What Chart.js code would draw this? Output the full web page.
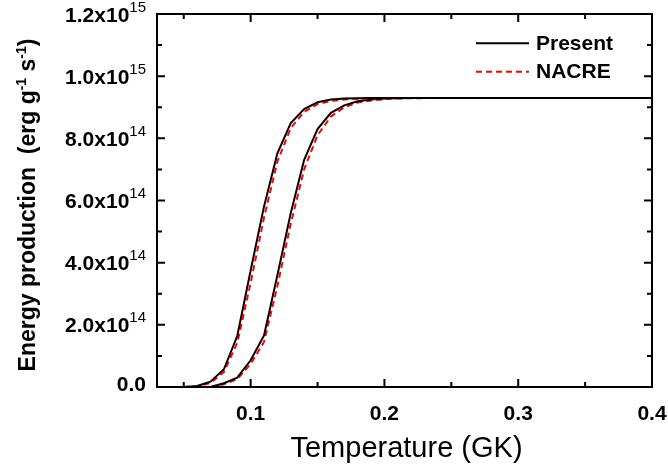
<!DOCTYPE html>
<html>
<head>
<meta charset="utf-8">
<script src="https://cdn.jsdelivr.net/npm/chart.js@4/dist/chart.umd.min.js"></script>
<style>
  html, body { margin: 0; padding: 0; background: #fff; }
  #wrap { width: 668px; height: 467px; }
</style>
</head>
<body>
<div id="wrap"><canvas id="chart" width="668" height="467"></canvas></div>
<script>
// temperature grid (GK), energy production in units of 1e14 erg g^-1 s^-1
const TEMPS = [0.05,0.06,0.07,0.08,0.09,0.10,0.11,0.12,0.13,0.14,0.15,0.16,0.17,0.18,0.19,0.20,0.21,0.22,0.25,0.30,0.35,0.40];

const presentLow  = [0.00,0.03,0.17,0.57,1.64,3.75,5.81,7.52,8.49,8.94,9.16,9.25,9.28,9.29,9.30,9.30,9.30,9.30,9.30,9.30,9.30,9.30];
const nacreLow    = [0.00,0.02,0.13,0.48,1.42,3.35,5.45,7.25,8.33,8.85,9.10,9.20,9.25,9.27,9.28,9.29,9.30,9.30,9.30,9.30,9.30,9.30];
const presentHigh = [null,null,0.00,0.12,0.30,0.86,1.66,3.60,5.60,7.31,8.30,8.82,9.06,9.19,9.25,9.28,9.29,9.30,9.30,9.30,9.30,9.30];
const nacreHigh   = [null,null,0.00,0.09,0.25,0.74,1.45,3.25,5.25,7.00,8.10,8.70,9.00,9.15,9.22,9.26,9.28,9.29,9.30,9.30,9.30,9.30];

const X_MAJOR = [0.1, 0.2, 0.3, 0.4];
const X_MINOR = [0.05, 0.15, 0.25, 0.35];
const X_LABELS = ['0.1', '0.2', '0.3', '0.4'];
const Y_MAJOR = [0, 2, 4, 6, 8, 10, 12];
const Y_MINOR = [1, 3, 5, 7, 9, 11];
const Y_LABELS = ['0.0', '2.0x10', '4.0x10', '6.0x10', '8.0x10', '1.0x10', '1.2x10'];
const Y_EXPS   = ['', '14', '14', '14', '14', '15', '15'];

const FONT = '"Liberation Sans", Arial, sans-serif';
const pts = arr => TEMPS.map((t, i) => ({ x: t, y: arr[i] }));

function line(label, arr, color, dash) {
  return {
    label, data: pts(arr),
    borderColor: color, borderWidth: 2, borderDash: dash || [],
    pointRadius: 0, tension: 0, fill: false, spanGaps: false,
  };
}

// frame, inward ticks, labels, titles and legend
const decor = {
  id: 'decor',
  afterDraw(chart) {
    const ctx = chart.ctx, xs = chart.scales.x, ys = chart.scales.y;
    const a = chart.chartArea;
    ctx.save();
    ctx.strokeStyle = '#000';
    ctx.lineWidth = 2;
    ctx.strokeRect(a.left, a.top, a.right - a.left, a.bottom - a.top);

    ctx.beginPath();
    const tickX = (vals, len) => vals.forEach(v => {
      const px = xs.getPixelForValue(v);
      ctx.moveTo(px, a.bottom); ctx.lineTo(px, a.bottom - len);
      ctx.moveTo(px, a.top);    ctx.lineTo(px, a.top + len);
    });
    const tickY = (vals, len) => vals.forEach(v => {
      const py = ys.getPixelForValue(v);
      ctx.moveTo(a.left, py);  ctx.lineTo(a.left + len, py);
      ctx.moveTo(a.right, py); ctx.lineTo(a.right - len, py);
    });
    tickX(X_MAJOR, 8); tickX(X_MINOR, 5);
    tickY(Y_MAJOR, 8); tickY(Y_MINOR, 5);
    ctx.stroke();

    ctx.fillStyle = '#000';
    // x tick labels
    ctx.font = 'bold 21px ' + FONT;
    ctx.textAlign = 'center';
    ctx.textBaseline = 'alphabetic';
    X_MAJOR.forEach((v, i) => ctx.fillText(X_LABELS[i], xs.getPixelForValue(v), 420));

    // y tick labels with exponent
    const rightEdge = a.left - 11;
    Y_MAJOR.forEach((v, i) => {
      const py = ys.getPixelForValue(v);
      const base = v === 0 ? py + 3.5 : py + 7.5;
      ctx.font = '15px ' + FONT;
      const ew = Y_EXPS[i] ? ctx.measureText(Y_EXPS[i]).width : 0;
      ctx.textAlign = 'left';
      if (ew) ctx.fillText(Y_EXPS[i], rightEdge - ew, base - 10);
      ctx.font = 'bold 21px ' + FONT;
      ctx.textAlign = 'right';
      ctx.fillText(Y_LABELS[i], rightEdge - ew, base);
    });

    // x title
    ctx.font = '29px ' + FONT;
    ctx.textAlign = 'center';
    ctx.fillText('Temperature (GK)', (a.left + a.right) / 2 + 2, 457);

    // y title, rotated, with superscripts
    const parts = [
      ['Energy production', 'bold 23px', 0],
      ['  (erg g', 'bold 23px', 0],
      ['-1', 'bold 14px', -9],
      [' s', 'bold 23px', 0],
      ['-1', 'bold 14px', -9],
      [')', 'bold 23px', 0],
    ];
    let total = 0;
    parts.forEach(p => { ctx.font = p[1] + ' ' + FONT; p.push(ctx.measureText(p[0]).width); total += p[3]; });
    ctx.save();
    ctx.translate(35, 205);
    ctx.rotate(-Math.PI / 2);
    ctx.textAlign = 'left';
    let x = -total / 2;
    parts.forEach(p => { ctx.font = p[1] + ' ' + FONT; ctx.fillText(p[0], x, p[2]); x += p[3]; });
    ctx.restore();

    // legend
    const ds = chart.data.datasets;
    [[ds[0], 43.3, 50], [ds[1], 71.7, 78.3]].forEach(([d, ly, ty]) => {
      ctx.beginPath();
      ctx.strokeStyle = d.borderColor;
      ctx.lineWidth = 2;
      ctx.setLineDash(d.borderDash);
      ctx.moveTo(476, ly); ctx.lineTo(529, ly);
      ctx.stroke();
      ctx.setLineDash([]);
      ctx.font = 'bold 21px ' + FONT;
      ctx.textAlign = 'left';
      ctx.fillText(d.label, 536, ty);
    });
    ctx.restore();
  }
};

new Chart(document.getElementById('chart'), {
  type: 'line',
  data: {
    datasets: [
      line('Present', presentLow, '#000000'),
      line('NACRE', nacreLow, '#ff0000', [6, 4]),
      line('Present', presentHigh, '#000000'),
      line('NACRE', nacreHigh, '#ff0000', [6, 4]),
    ]
  },
  options: {
    responsive: false,
    animation: false,
    devicePixelRatio: 1,
    layout: { padding: { top: 14, right: 16, left: 0, bottom: 0 } },
    plugins: { legend: { display: false }, tooltip: { enabled: false } },
    scales: {
      x: {
        type: 'linear', min: 0.03, max: 0.4,
        ticks: { display: false }, grid: { display: false }, border: { display: false },
        afterFit: s => { s.height = 80; }
      },
      y: {
        type: 'linear', min: 0, max: 12,
        ticks: { display: false }, grid: { display: false }, border: { display: false },
        afterFit: s => { s.width = 157; }
      }
    }
  },
  plugins: [decor]
});
</script>
</body>
</html>
